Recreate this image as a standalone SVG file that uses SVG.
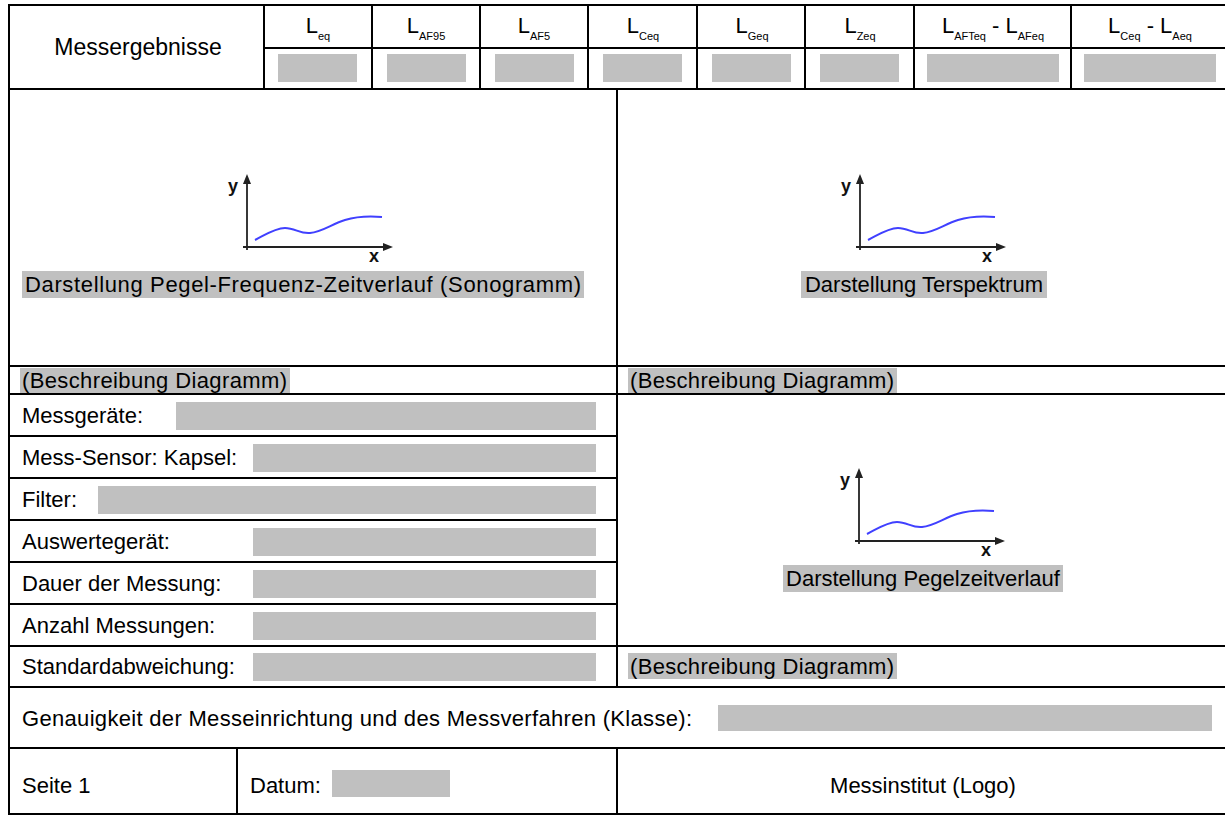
<svg xmlns="http://www.w3.org/2000/svg" width="1225" height="816" viewBox="0 0 1225 816">
<style>
.ln{stroke:#000;stroke-width:2;fill:none}
.t{font-family:"Liberation Sans",Arial,sans-serif;font-size:22px;fill:#000}
.sub{font-size:11px}
.g{fill:#c0c0c0}
.ax{stroke:#222;stroke-width:1.8;fill:none}
.ah{fill:#222}
.cv{stroke:#4040ff;stroke-width:2;fill:none}
.al{font-family:"Liberation Sans",Arial,sans-serif;font-size:18px;font-weight:bold;fill:#111}
</style>
<defs>
<g id="plot">
<line class="ax" x1="247" y1="250" x2="247" y2="182"/>
<polygon class="ah" points="247,174 243,184 251,184"/>
<line class="ax" x1="243" y1="247" x2="385" y2="247"/>
<polygon class="ah" points="393,247 383,243 383,251"/>
<text class="al" x="228" y="192">y</text>
<text class="al" x="369" y="262">x</text>
<path class="cv" d="M255,240 C265,235 275,228 285,228 C295,228 300,234 310,233 C322,232 332,224 345,220 C358,216 370,216 382,217"/>
</g>
</defs>

<g id="connectors">
<line class="ln" x1="8" y1="5" x2="1225" y2="5"/>
<line class="ln" x1="9" y1="4" x2="9" y2="815"/>
<line class="ln" x1="8" y1="89" x2="1225" y2="89"/>
<line class="ln" x1="264" y1="48" x2="1225" y2="48"/>
<line class="ln" x1="264" y1="5" x2="264" y2="89"/>
<line class="ln" x1="372" y1="5" x2="372" y2="89"/>
<line class="ln" x1="480" y1="5" x2="480" y2="89"/>
<line class="ln" x1="588" y1="5" x2="588" y2="89"/>
<line class="ln" x1="697" y1="5" x2="697" y2="89"/>
<line class="ln" x1="805" y1="5" x2="805" y2="89"/>
<line class="ln" x1="914" y1="5" x2="914" y2="89"/>
<line class="ln" x1="1071" y1="5" x2="1071" y2="89"/>
<line class="ln" x1="617" y1="89" x2="617" y2="687"/>
<line class="ln" x1="617" y1="748" x2="617" y2="815"/>
<line class="ln" x1="237" y1="748" x2="237" y2="815"/>
<line class="ln" x1="8" y1="366" x2="1225" y2="366"/>
<line class="ln" x1="8" y1="394" x2="1225" y2="394"/>
<line class="ln" x1="8" y1="436" x2="617" y2="436"/>
<line class="ln" x1="8" y1="478" x2="617" y2="478"/>
<line class="ln" x1="8" y1="520" x2="617" y2="520"/>
<line class="ln" x1="8" y1="562" x2="617" y2="562"/>
<line class="ln" x1="8" y1="604" x2="617" y2="604"/>
<line class="ln" x1="8" y1="646" x2="1225" y2="646"/>
<line class="ln" x1="8" y1="687" x2="1225" y2="687"/>
<line class="ln" x1="8" y1="748" x2="1225" y2="748"/>
<line class="ln" x1="8" y1="814" x2="1225" y2="814"/>
</g>

<g id="header-title"><text class="t" x="138" y="55" text-anchor="middle" style="font-size:23px">Messergebnisse</text></g>

<g id="h-leq">
<text class="t" x="318" y="33" text-anchor="middle">L<tspan class="sub" dy="7">eq</tspan></text>
<rect class="g" x="278" y="54" width="79" height="28"/>
</g>
<g id="h-laf95">
<text class="t" x="426" y="33" text-anchor="middle">L<tspan class="sub" dy="7">AF95</tspan></text>
<rect class="g" x="387" y="54" width="79" height="28"/>
</g>
<g id="h-laf5">
<text class="t" x="534" y="33" text-anchor="middle">L<tspan class="sub" dy="7">AF5</tspan></text>
<rect class="g" x="495" y="54" width="79" height="28"/>
</g>
<g id="h-lceq">
<text class="t" x="643" y="33" text-anchor="middle">L<tspan class="sub" dy="7">Ceq</tspan></text>
<rect class="g" x="603" y="54" width="79" height="28"/>
</g>
<g id="h-lgeq">
<text class="t" x="752" y="33" text-anchor="middle">L<tspan class="sub" dy="7">Geq</tspan></text>
<rect class="g" x="712" y="54" width="79" height="28"/>
</g>
<g id="h-lzeq">
<text class="t" x="860" y="33" text-anchor="middle">L<tspan class="sub" dy="7">Zeq</tspan></text>
<rect class="g" x="820" y="54" width="79" height="28"/>
</g>
<g id="h-lafteq">
<text class="t" x="993" y="33" text-anchor="middle">L<tspan class="sub" dy="7">AFTeq</tspan><tspan dy="-7"> - L</tspan><tspan class="sub" dy="7">AFeq</tspan></text>
<rect class="g" x="927" y="54" width="132" height="28"/>
</g>
<g id="h-lceq-laeq">
<text class="t" x="1150" y="33" text-anchor="middle">L<tspan class="sub" dy="7">Ceq</tspan><tspan dy="-7"> - L</tspan><tspan class="sub" dy="7">Aeq</tspan></text>
<rect class="g" x="1084" y="54" width="132" height="28"/>
</g>

<g id="chart-sonogramm">
<use href="#plot"/>
<rect class="g" x="22" y="271" width="562" height="27"/>
<text class="t" x="303" y="292" text-anchor="middle" textLength="556" lengthAdjust="spacing">Darstellung Pegel-Frequenz-Zeitverlauf (Sonogramm)</text>
</g>
<g id="chart-terspektrum">
<use href="#plot" transform="translate(613,0)"/>
<rect class="g" x="801" y="271" width="246" height="27"/>
<text class="t" x="924" y="292" text-anchor="middle">Darstellung Terspektrum</text>
</g>
<g id="chart-pegelzeitverlauf">
<use href="#plot" transform="translate(612,294)"/>
<rect class="g" x="783" y="565" width="280" height="27"/>
<text class="t" x="923" y="586" text-anchor="middle">Darstellung Pegelzeitverlauf</text>
</g>

<g id="desc-left">
<rect class="g" x="20" y="368" width="270" height="25"/>
<text class="t" x="22" y="388" textLength="265" lengthAdjust="spacing">(Beschreibung Diagramm)</text>
</g>
<g id="desc-right">
<rect class="g" x="628" y="368" width="269" height="25"/>
<text class="t" x="630" y="388" textLength="264" lengthAdjust="spacing">(Beschreibung Diagramm)</text>
</g>
<g id="desc-right-2">
<rect class="g" x="628" y="653" width="269" height="26"/>
<text class="t" x="630" y="674" textLength="264" lengthAdjust="spacing">(Beschreibung Diagramm)</text>
</g>

<g id="row-messgeraete">
<text class="t" x="22" y="423">Messgeräte:</text>
<rect class="g" x="176" y="402" width="420" height="28"/>
</g>
<g id="row-sensor">
<text class="t" x="22" y="465">Mess-Sensor: Kapsel:</text>
<rect class="g" x="253" y="444" width="343" height="28"/>
</g>
<g id="row-filter">
<text class="t" x="22" y="507">Filter:</text>
<rect class="g" x="98" y="486" width="498" height="28"/>
</g>
<g id="row-auswerte">
<text class="t" x="22" y="549">Auswertegerät:</text>
<rect class="g" x="253" y="528" width="343" height="28"/>
</g>
<g id="row-dauer">
<text class="t" x="22" y="591">Dauer der Messung:</text>
<rect class="g" x="253" y="570" width="343" height="28"/>
</g>
<g id="row-anzahl">
<text class="t" x="22" y="633">Anzahl Messungen:</text>
<rect class="g" x="253" y="612" width="343" height="28"/>
</g>
<g id="row-std">
<text class="t" x="22" y="674">Standardabweichung:</text>
<rect class="g" x="253" y="653" width="343" height="28"/>
</g>

<g id="row-genauigkeit">
<text class="t" x="22" y="726" textLength="670" lengthAdjust="spacing">Genauigkeit der Messeinrichtung und des Messverfahren (Klasse):</text>
<rect class="g" x="718" y="705" width="494" height="26"/>
</g>

<g id="footer-seite"><text class="t" x="22" y="793">Seite 1</text></g>
<g id="footer-datum">
<text class="t" x="250" y="793">Datum:</text>
<rect class="g" x="332" y="770" width="118" height="27"/>
</g>
<g id="footer-institut"><text class="t" x="923" y="793" text-anchor="middle">Messinstitut (Logo)</text></g>
</svg>
